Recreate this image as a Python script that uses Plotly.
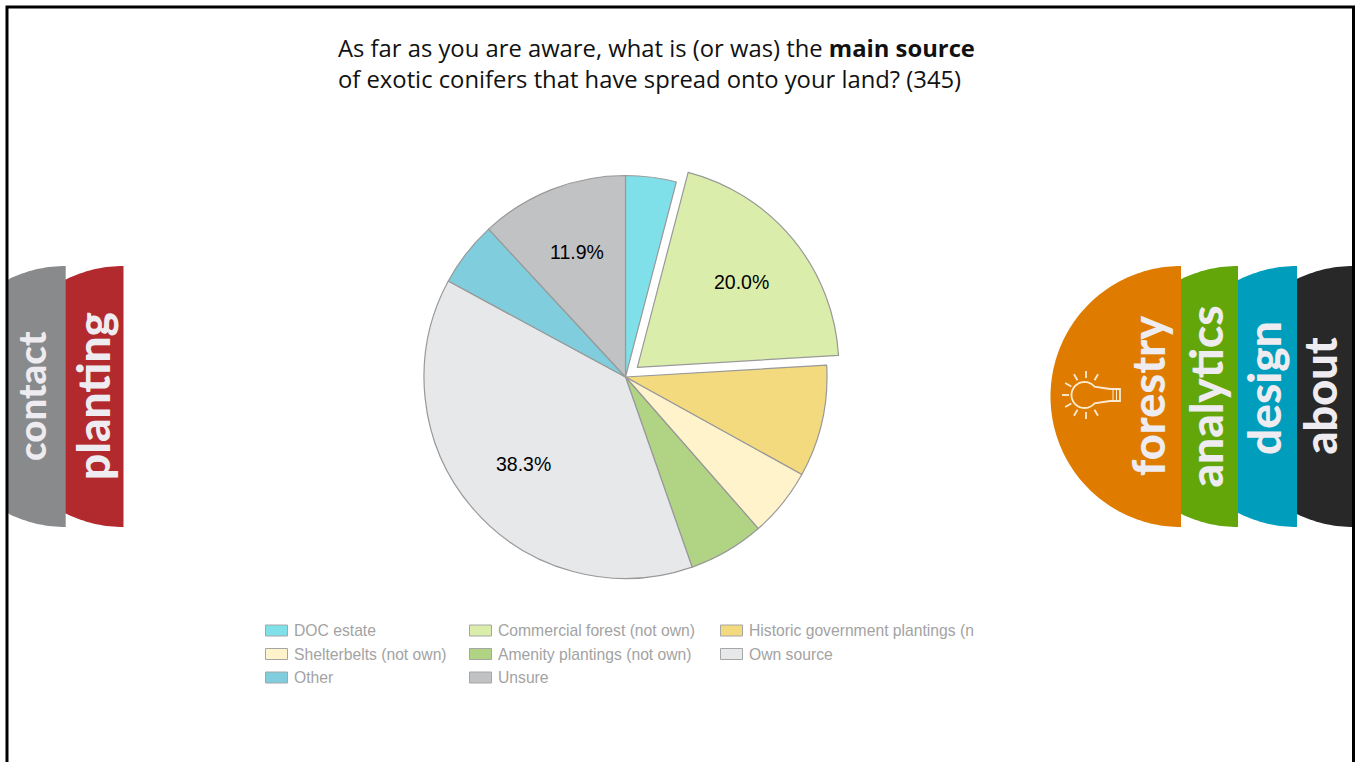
import numpy as np
import plotly.graph_objects as go

WIDTH, HEIGHT = 1361, 762

# Survey responses (n = 345) by main source of exotic conifers
sources = ["DOC estate", "Commercial forest (not own)", "Historic government plantings (not own)",
           "Shelterbelts (not own)", "Amenity plantings (not own)", "Own source", "Other", "Unsure"]
responses = [14, 69, 31, 19, 21, 132, 18, 41]
slice_colors = ["#7FE0E9", "#DBEDAB", "#F3DA7F", "#FFF3CB", "#B1D384", "#E7E8EA", "#7FCDDD", "#C1C2C4"]
labelled_sources = ["Commercial forest (not own)", "Own source", "Unsure"]
slice_pull = [0, 0.076, 0, 0, 0, 0, 0, 0]

# Legend entries, read row by row
legend_labels = ["DOC estate", "Commercial forest (not own)", "Historic government plantings (n",
                 "Shelterbelts (not own)", "Amenity plantings (not own)", "Own source",
                 "Other", "Unsure"]
legend_columns = [265, 469, 720]
legend_rows = [630.5, 654, 677.5]

title_lines = "As far as you are aware, what is (or was) the <b>main source</b><br>of exotic conifers that have spread onto your land? (345)"

# Side navigation tabs: label, flat edge x, fill colour, drawn back to front
right_tabs = [("about", 1353.5, "#282828"), ("design", 1297, "#009DBD"),
              ("analytics", 1238, "#62A60A"), ("forestry", 1181, "#DF7C00")]
left_tabs = [("planting", 123.5, "#B2292E"), ("contact", 65.7, "#898A8C")]
tab_centre_y, tab_radius = 396.5, 130.5
tab_text = {"about": (1319, 396.5, 45), "design": (1263, 388, 46), "analytics": (1205, 396.5, 46),
            "forestry": (1148, 396, 45), "planting": (92, 396, 46), "contact": (31, 396, 38.5)}

CX, CY, R = 625.5, 377, 201.5
MAX_PULL = max(slice_pull)


def px(x):
    return x / WIDTH


def py(y):
    return 1 - y / HEIGHT


def path_from(points, close=True):
    d = "M" + " L".join(f"{px(x):.5f},{py(y):.5f}" for x, y in points)
    return d + (" Z" if close else "")


shapes = []


def half_disc(edge_x, colour, left_limit=None):
    a = np.linspace(np.pi / 2, 3 * np.pi / 2, 121)
    xs = edge_x + tab_radius * np.cos(a)
    ys = tab_centre_y - tab_radius * np.sin(a)
    if left_limit is not None:
        xs = np.maximum(xs, left_limit)
    shapes.append(dict(type="path", xref="paper", yref="paper", path=path_from(zip(xs, ys)),
                       fillcolor=colour, line=dict(width=0), layer="below"))


for _, edge, colour in right_tabs + left_tabs:
    half_disc(edge, colour, left_limit=8 if edge < 200 else None)

# Light bulb icon on the forestry tab
ICON = "#FBEBD3"
ray_x, ray_y = 1086, 395
for deg in [60, 90, 120, 150, 180, 210, 240, 270, 300]:
    t = np.radians(deg)
    shapes.append(dict(type="line", xref="paper", yref="paper",
                       x0=px(ray_x + 17 * np.cos(t)), y0=py(ray_y - 17 * np.sin(t)),
                       x1=px(ray_x + 24 * np.cos(t)), y1=py(ray_y - 24 * np.sin(t)),
                       line=dict(color=ICON, width=1.8)))
a = np.radians(np.linspace(40, 320, 50))
globe = [(1084.5 + 13 * np.cos(t), 395 - 13 * np.sin(t)) for t in a]
bulb = globe + [(1110, 401), (1120, 401), (1120, 389), (1110, 389)]
shapes.append(dict(type="path", xref="paper", yref="paper", path=path_from(bulb),
                   line=dict(color=ICON, width=1.8)))
for x in (1113, 1116.5):
    shapes.append(dict(type="line", xref="paper", yref="paper", x0=px(x), x1=px(x), y0=py(389.5), y1=py(400.5),
                       line=dict(color=ICON, width=1)))

# Outer frame, open at the bottom
shapes.append(dict(type="path", xref="paper", yref="paper",
                   path=path_from([(7, 770), (7, 7), (1353.5, 7), (1353.5, 770)], close=False),
                   line=dict(color="#000000", width=3)))

annotations = [dict(x=px(336), y=py(63.5), xref="paper", yref="paper", xanchor="left", yanchor="middle",
                    text=title_lines, showarrow=False, align="left",
                    font=dict(family="Open Sans", size=23.8, color="#111111"))]

for name, (x, y, size) in tab_text.items():
    annotations.append(dict(x=px(x), y=py(y), xref="paper", yref="paper", text=name,
                            textangle=-90, showarrow=False, xanchor="center", yanchor="middle",
                            font=dict(family="Lato", weight=900, size=size, color="#EEECF0")))

# Legend swatches and text
for i, label in enumerate(legend_labels):
    lx = legend_columns[i % 3]
    ly = legend_rows[i // 3]
    colour = slice_colors[i]
    shapes.append(dict(type="rect", xref="paper", yref="paper", x0=px(lx + 0.5), x1=px(lx + 22.5),
                       y0=py(ly - 5.5), y1=py(ly + 5.5), fillcolor=colour,
                       line=dict(color="#A6A6A6", width=1)))
    annotations.append(dict(x=px(lx + 27), y=py(ly), xref="paper", yref="paper", xanchor="left",
                            yanchor="middle", text=label, showarrow=False,
                            font=dict(family="Liberation Sans", size=15.7, color="#A3A3A3")))

# Percentage labels sit two thirds of the way out along each slice's mid-angle
total = sum(responses)
running = 0
for src, count, pull in zip(sources, responses, slice_pull):
    mid = (running + count / 2) / total * 2 * np.pi
    running += count
    if src in labelled_sources:
        dist = R * (2 / 3 + pull)
        annotations.append(dict(x=px(CX + dist * np.sin(mid)), y=py(CY - dist * np.cos(mid)),
                                xref="paper", yref="paper", showarrow=False,
                                xanchor="center", yanchor="middle",
                                text=f"{count / total:.1%}",
                                font=dict(family="Liberation Sans", size=19.5, color="#000000")))

half = R * (1 + MAX_PULL)

fig = go.Figure(go.Pie(
    labels=sources, values=responses, sort=False, direction="clockwise", rotation=0,
    pull=slice_pull, marker=dict(colors=slice_colors, line=dict(color="#999999", width=1.2)),
    textinfo="none", hoverinfo="label+percent", showlegend=False,
    domain=dict(x=[px(CX - half), px(CX + half)], y=[py(CY + half), py(CY - half)]),
))

fig.update_layout(width=WIDTH, height=HEIGHT, margin=dict(l=0, r=0, t=0, b=0),
                  paper_bgcolor="#FFFFFF", plot_bgcolor="#FFFFFF",
                  shapes=shapes, annotations=annotations)
fig.write_html("out.html")
